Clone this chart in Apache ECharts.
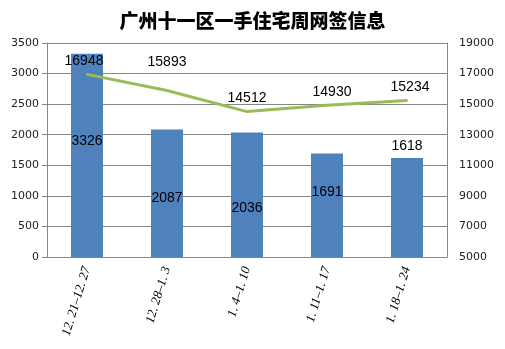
<!DOCTYPE html>
<html>
<head>
<meta charset="utf-8">
<script src="https://cdn.jsdelivr.net/npm/echarts@6/dist/echarts.min.js"></script>
<style>
html,body{margin:0;padding:0;background:#fff;}
#c{width:505px;height:349px;}
</style>
</head>
<body>
<div id="c"></div>
<script>
var categories = ['12. 21–12. 27', '12. 28–1. 3', '1. 4–1. 10', '1. 11–1. 17', '1. 18–1. 24'];
var barValues = [3326, 2087, 2036, 1691, 1618];
var lineValues = [16948, 15893, 14512, 14930, 15234];
var leftTicks = [0, 500, 1000, 1500, 2000, 2500, 3000, 3500];
var rightTicks = [5000, 7000, 9000, 11000, 13000, 15000, 17000, 19000];

// label placement styles (kept separate from data)
var barLabelStyle = [
  {position: 'inside', offset: [0, -14]},
  {position: 'inside', offset: [0, 5]},
  {position: 'inside', offset: [0, 13]},
  {position: 'inside', offset: [0, -13]},
  {position: 'top', offset: [0, 0]}
];
var lineLabelOffsets = [[-3, 0], [0, -15], [0, 0], [5, 0], [3, 0]];

var labelFont = {color: '#000', fontSize: 14, fontFamily: 'Liberation Sans'};
var plain = function (v) { return String(v); };

var chart = echarts.init(document.getElementById('c'), null, {renderer: 'canvas'});
chart.setOption({
  backgroundColor: '#fff',
  animation: false,
  title: {
    text: '广州十一区一手住宅周网签信息',
    left: 'center',
    top: 6,
    textStyle: {fontFamily: 'Noto Sans CJK SC', fontWeight: 900, fontSize: 19, color: '#000'}
  },
  grid: {left: 47, right: 58, top: 43, bottom: 92},
  xAxis: {
    type: 'category',
    data: categories,
    axisLine: {lineStyle: {color: '#868686'}},
    axisTick: {show: false},
    axisLabel: {
      rotate: 73,
      interval: 0,
      margin: 10,
      fontFamily: 'Liberation Serif',
      fontStyle: 'italic',
      fontSize: 13,
      color: '#000'
    }
  },
  yAxis: [
    {
      type: 'value',
      min: leftTicks[0],
      max: leftTicks[leftTicks.length - 1],
      interval: leftTicks[1] - leftTicks[0],
      axisLine: {show: true, lineStyle: {color: '#868686'}},
      axisTick: {show: true, length: 5, lineStyle: {color: '#868686'}},
      splitLine: {lineStyle: {color: '#868686'}},
      axisLabel: {fontFamily: 'DejaVu Sans', fontSize: 11, color: '#222', margin: 8, formatter: plain}
    },
    {
      type: 'value',
      min: rightTicks[0],
      max: rightTicks[rightTicks.length - 1],
      interval: rightTicks[1] - rightTicks[0],
      position: 'right',
      axisLine: {show: true, lineStyle: {color: '#868686'}},
      axisTick: {show: false},
      splitLine: {show: false},
      axisLabel: {fontFamily: 'DejaVu Sans', fontSize: 11, color: '#222', margin: 12, formatter: plain}
    }
  ],
  series: [
    {
      type: 'bar',
      yAxisIndex: 0,
      barWidth: '40%',
      itemStyle: {color: '#4F81BD'},
      data: barValues.map(function (v, i) {
        return {
          value: v,
          label: Object.assign({show: true}, labelFont, barLabelStyle[i])
        };
      }),
      z: 2
    },
    {
      type: 'line',
      yAxisIndex: 1,
      symbol: 'circle',
      symbolSize: 2,
      showSymbol: true,
      lineStyle: {color: '#9BBB59', width: 3},
      itemStyle: {color: '#9BBB59'},
      label: Object.assign({show: true, position: 'top', distance: 5}, labelFont),
      data: lineValues.map(function (v, i) {
        return {value: v, label: {show: true, offset: lineLabelOffsets[i]}};
      }),
      z: 3
    }
  ]
});
</script>
</body>
</html>
